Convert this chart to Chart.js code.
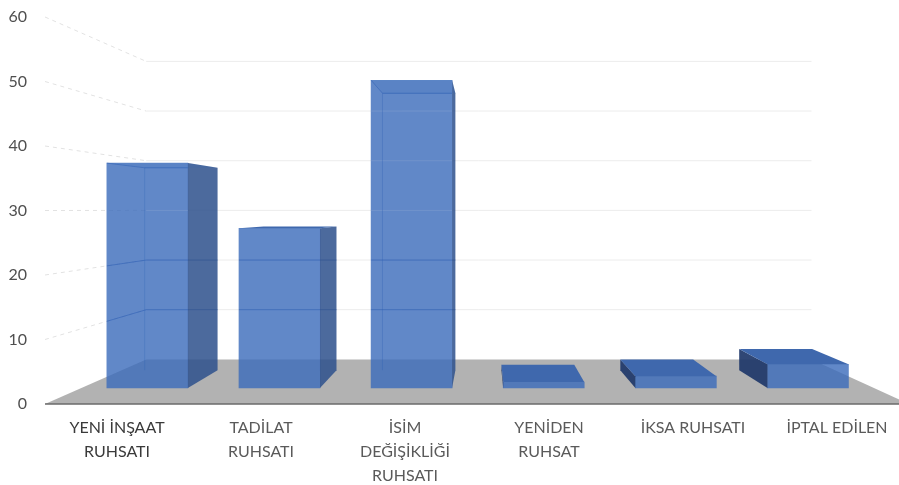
<!DOCTYPE html>
<html>
<head>
<meta charset="utf-8">
<title>Ruhsat</title>
<script src="https://cdn.jsdelivr.net/npm/chart.js@4"></script>
<style>
  html, body { margin: 0; padding: 0; width: 899px; height: 485px; overflow: hidden; background: #fff; }
  canvas { display: block; filter: blur(0.6px); }
</style>
</head>
<body>
<canvas id="my-chart" width="909" height="485"></canvas>
<script>
'use strict';

// ************************* DATA ***************************

let categories = [
  ['YENİ İNŞAAT', 'RUHSATI'],
  ['TADİLAT', 'RUHSATI'],
  ['İSİM', 'DEĞİŞİKLİĞİ', 'RUHSATI'],
  ['YENİDEN', 'RUHSAT'],
  'İKSA RUHSATI',
  'İPTAL EDİLEN'
];
let permitCounts = [38, 27, 52, 1, 2, 4];
let axisMax = 60;
let axisStep = 10;

// ************************* PERSPECTIVE ***************************
// the floor, walls and bars all shrink toward one vanishing point

let area = { left: 45, right: 909, top: 17, bottom: 404 };
let vanish = { x: 485, y: 210 };
let wallDepth = 0.77;    // back wall relative to the axis plane
let barDepth = 0.9175;   // bar fronts relative to the axis plane
let barBackDepth = 0.9;  // bar backs relative to bar fronts

function toPlane(x, y, k) {
  return { x: vanish.x + (x - vanish.x) * k, y: vanish.y + (y - vanish.y) * k };
}

// limits of the hidden scales, so that bars land on their own depth plane
let slotWidth = (area.right - area.left) / categories.length;
let unitHeight = (area.bottom - area.top) / axisMax;

function xBarLimit(px) {
  return (vanish.x + (px - vanish.x) / barDepth - area.left) / slotWidth - 0.5;
}

function yBarLimit(px) {
  return (area.bottom - (vanish.y + (px - vanish.y) / barDepth)) / unitHeight;
}

// ************************* PLUGIN ***************************

function fillPoly(ctx, pts, color) {
  ctx.beginPath();
  pts.forEach((p, i) => (i ? ctx.lineTo(p.x, p.y) : ctx.moveTo(p.x, p.y)));
  ctx.closePath();
  ctx.fillStyle = color;
  ctx.fill();
}

function line(ctx, a, b, color, width, dash) {
  ctx.beginPath();
  ctx.moveTo(a.x, a.y);
  ctx.lineTo(b.x, b.y);
  ctx.strokeStyle = color;
  ctx.lineWidth = width;
  ctx.setLineDash(dash || []);
  ctx.stroke();
  ctx.setLineDash([]);
}

function wallLines(ctx, chart, sideColor, backColor, dash, test) {
  let yScale = chart.scales.y;
  yScale.ticks.forEach(t => {
    if (!test(t.value)) return;
    let y = yScale.getPixelForValue(t.value);
    let a = { x: area.left, y: y };
    let b = toPlane(area.left, y, wallDepth);
    let c = toPlane(area.right, y, wallDepth);
    line(ctx, a, b, sideColor, 1, dash);
    line(ctx, b, c, backColor, 1);
  });
}

let scenePlugin = {
  id: 'scene',
  beforeDatasetsDraw(chart) {
    let ctx = chart.ctx;
    let y0 = chart.scales.y.getPixelForValue(0);
    wallLines(ctx, chart, '#e2e2e2', '#ececec', [4, 4], v => v > 0);
    fillPoly(ctx, [
      { x: area.left, y: y0 },
      toPlane(area.left, y0, wallDepth),
      toPlane(area.right, y0, wallDepth),
      { x: area.right, y: y0 }
    ], '#b2b2b2');
    line(ctx, { x: area.left, y: y0 }, { x: area.right, y: y0 }, '#6a6a6a', 1.5);
  },
  afterDatasetsDraw(chart) {
    let ctx = chart.ctx;
    chart.getDatasetMeta(0).data.forEach(bar => {
      let L = bar.x - bar.width / 2;
      let R = bar.x + bar.width / 2;
      let T = bar.y;
      let B = bar.base;
      let back = (x, y) => toPlane(x, y, barBackDepth);
      let bLT = back(L, T), bRT = back(R, T), bRB = back(R, B), bLB = back(L, B);
      let tall = T < vanish.y;

      // wall lines seen through the bar
      ctx.save();
      ctx.beginPath();
      ctx.rect(L, T, Math.max(R, bRT.x) - L, B - T);
      ctx.clip();
      wallLines(ctx, chart, 'rgba(45,95,180,0.55)', 'rgba(45,95,180,0.55)', [], v => v > 0 && v <= 20);
      wallLines(ctx, chart, 'rgba(255,255,255,0)', 'rgba(255,255,255,0.12)', [], v => v > 20);
      ctx.restore();

      // sides
      if (bRT.x > R) {
        fillPoly(ctx, [{ x: R, y: T }, bRT, bRB, { x: R, y: B }], 'rgba(45,80,140,0.85)');
      }
      if (bLT.x < L) {
        fillPoly(ctx, [{ x: L, y: T }, bLT, bLB, { x: L, y: B }], 'rgba(30,55,105,0.92)');
      }

      // top, seen from below on the tall bars and from above on the short ones
      if (tall) {
        fillPoly(ctx, [{ x: L, y: T }, { x: R, y: T }, bRT, bLT], 'rgba(45,95,180,0.12)');
        line(ctx, { x: L, y: T }, bLT, 'rgba(45,95,180,0.5)', 1);
        line(ctx, bLT, { x: Math.min(R, bRT.x), y: bRT.y }, 'rgba(45,95,180,0.65)', 1);
        line(ctx, bLT, { x: bLT.x, y: Math.min(bLB.y, chart.scales.y.getPixelForValue(0)) }, 'rgba(45,95,180,0.3)', 1);
      } else {
        fillPoly(ctx, [{ x: L, y: T }, { x: R, y: T }, bRT, bLT], '#3f68ad');
      }
    });
  }
};

// ************************* CHART ***************************

let ctx = document.getElementById('my-chart').getContext('2d');

new Chart(ctx, {
  type: 'bar',
  data: {
    labels: categories,
    datasets: [{
      data: permitCounts.map((v, i) => ({ x: i, y: v })),
      xAxisID: 'xBar',
      yAxisID: 'yBar',
      barThickness: 81,
      backgroundColor: 'rgba(58,106,186,0.8)',
      borderWidth: 0
    }]
  },
  options: {
    responsive: false,
    animation: false,
    layout: { padding: { top: area.top, left: 0, right: 0, bottom: 0 } },
    plugins: { legend: { display: false }, tooltip: { enabled: false } },
    scales: {
      x: {
        type: 'category',
        offset: true,
        grid: { display: false, drawTicks: false },
        border: { display: false },
        afterFit: s => { s.height = 485 - area.bottom; },
        ticks: {
          autoSkip: false,
          maxRotation: 0,
          padding: 12,
          font: { family: 'Lato', size: 16, lineHeight: 1.5 },
          color: c => (c.index === 0 ? '#3a3a3a' : '#5a5a5a')
        }
      },
      y: {
        min: 0,
        max: axisMax,
        // the tick marks are not drawn, their length only keeps the labels off the plot
        grid: { display: false, drawTicks: true, tickLength: 18 },
        border: { display: false },
        afterFit: s => { s.width = area.left; },
        ticks: {
          stepSize: axisStep,
          padding: 0,
          font: { family: 'Lato', size: 16 },
          color: '#4f4f4f'
        }
      },
      xBar: { type: 'linear', display: false, offset: false, min: xBarLimit(area.left), max: xBarLimit(area.right) },
      yBar: { type: 'linear', display: false, min: yBarLimit(area.bottom), max: yBarLimit(area.top) }
    }
  },
  plugins: [scenePlugin]
});
</script>
</body>
</html>
